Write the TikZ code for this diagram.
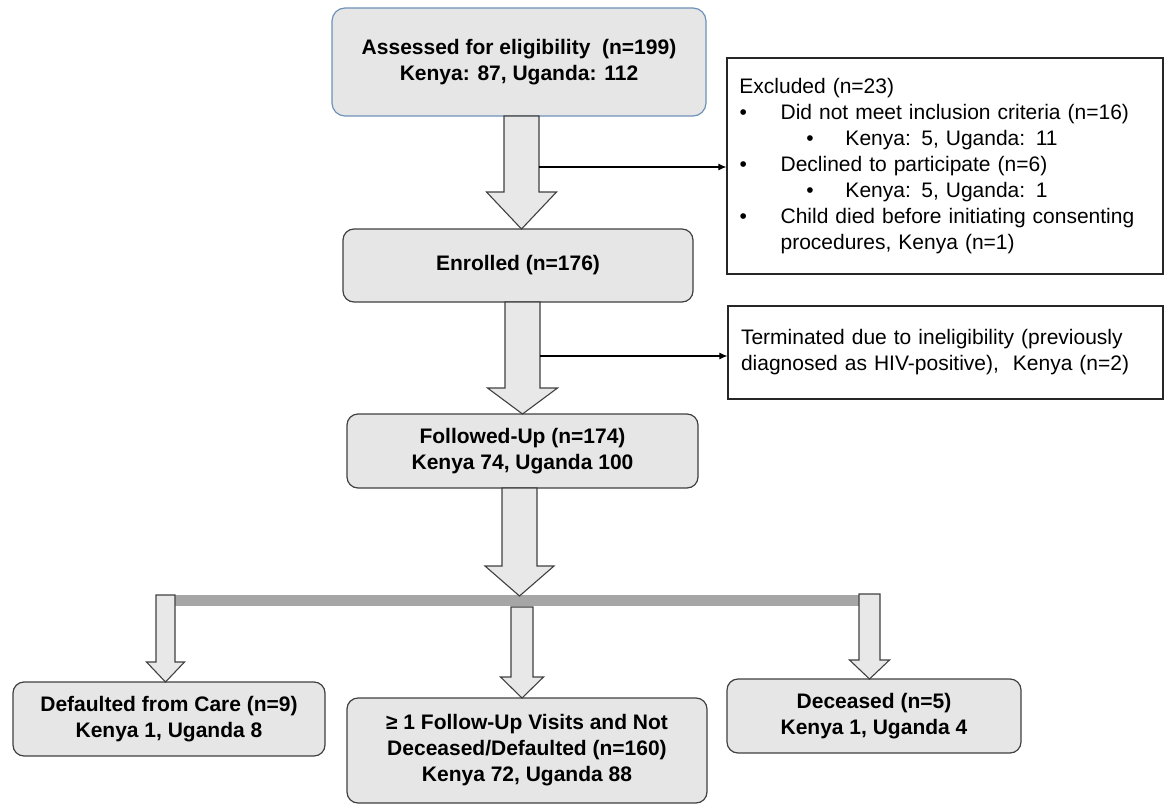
\documentclass[tikz,border=0pt]{standalone}
\usepackage{fontspec}
\setmainfont{Liberation Sans}
\usetikzlibrary{calc,arrows.meta}
\definecolor{boxfill}{RGB}{230,230,230}
\definecolor{arrfill}{RGB}{232,232,232}
\definecolor{edgegray}{RGB}{64,64,64}
\definecolor{bluedge}{RGB}{110,145,185}
\definecolor{bargray}{RGB}{166,166,166}
\newcommand{\blockarrow}[6]{\draw[barrow] ({#1-#5},#2) -- ({#1+#5},#2) -- ({#1+#5},#3) -- ({#1+#6},#3) -- (#1,#4) -- ({#1-#6},#3) -- ({#1-#5},#3) -- cycle;}
\begin{document}
\begin{tikzpicture}[x=1pt,y=-1pt,
  rbox/.style={draw=edgegray, line width=1.2pt, fill=boxfill, rounded corners=11pt, align=center,
    font=\fontsize{21}{26}\selectfont\bfseries, inner sep=0pt},
  sbox/.style={draw=black!85, line width=1.2pt, fill=white, inner sep=0pt, align=left,
    font=\fontsize{21}{26}\selectfont},
  barrow/.style={draw=edgegray, line width=1.1pt, fill=arrfill, line join=miter},
  thinarr/.style={draw=black, line width=1.1pt, -{Latex[length=8pt,width=7pt]}},
  barline/.style={draw=bargray, line width=11pt}
]
\useasboundingbox (0,0) rectangle (1166,805);

% main boxes
\node[rbox, draw=bluedge, rounded corners=13pt, minimum width=374pt, minimum height=108pt] (assess) at (519,62)
  {Assessed for eligibility\ \ (n=199)\\Kenya: 87, Uganda: 112};
\node[rbox, minimum width=350pt, minimum height=73pt] (enrol) at (518,265.5) {Enrolled (n=176)};
\node[rbox, minimum width=351pt, minimum height=74pt] (follow) at (522.5,451)
  {Followed-Up (n=174)\\Kenya 74, Uganda 100};
\node[rbox, minimum width=312pt, minimum height=74pt] (default) at (169,719)
  {Defaulted from Care (n=9)\\Kenya 1, Uganda 8};
\node[rbox, minimum width=360pt, minimum height=105pt] (visits) at (527,750.5)
  {≥ 1 Follow-Up Visits and Not\\Deceased/Defaulted (n=160)\\Kenya 72, Uganda 88};
\node[rbox, minimum width=294pt, minimum height=74pt] (dead) at (874,716)
  {Deceased (n=5)\\Kenya 1, Uganda 4};

% side boxes
\node[sbox, minimum height=216pt, text width=436pt] (excl) at (945,166) {%
\hspace*{12.4pt}Excluded (n=23)\\
\hspace*{12.6pt}\makebox[41pt][l]{•}Did not meet inclusion criteria (n=16)\\
\hspace*{79.3pt}\makebox[39.2pt][l]{•}Kenya: 5, Uganda: 11\\
\hspace*{12.6pt}\makebox[41pt][l]{•}Declined to participate (n=6)\\
\hspace*{79.3pt}\makebox[39.2pt][l]{•}Kenya: 5, Uganda: 1\\
\hspace*{12.6pt}\makebox[41pt][l]{•}Child died before initiating consenting\\
\hspace*{53.6pt}procedures, Kenya (n=1)};
\node[sbox, minimum height=93pt, text width=435pt] (term) at (945.5,352.5) {%
\hspace*{13pt}Terminated due to ineligibility (previously\\
\hspace*{13pt}diagnosed as HIV-positive),\ \ Kenya (n=2)};

% branching bar
\coordinate (barL) at (165,600.5);
\coordinate (barR) at (869,600.5);
\draw[barline] (barL) -- (barR);

% block arrows
\blockarrow{521.5}{116}{192}{229}{17.5}{35}
\blockarrow{522.5}{302}{388}{414}{17.5}{35}
\blockarrow{519.5}{488}{566}{596}{17.5}{34.5}
\blockarrow{165.5}{595}{662}{682}{9.5}{19}
\blockarrow{522}{607}{677}{698}{11}{21.5}
\blockarrow{869.5}{594}{660}{679}{10.5}{20}

% thin connectors
\coordinate (c1) at (539,167);
\coordinate (c2) at (540,356);
\draw[thinarr] (c1) -- (c1 -| excl.west);
\draw[thinarr] (c2) -- (c2 -| term.west);
\end{tikzpicture}
\end{document}
